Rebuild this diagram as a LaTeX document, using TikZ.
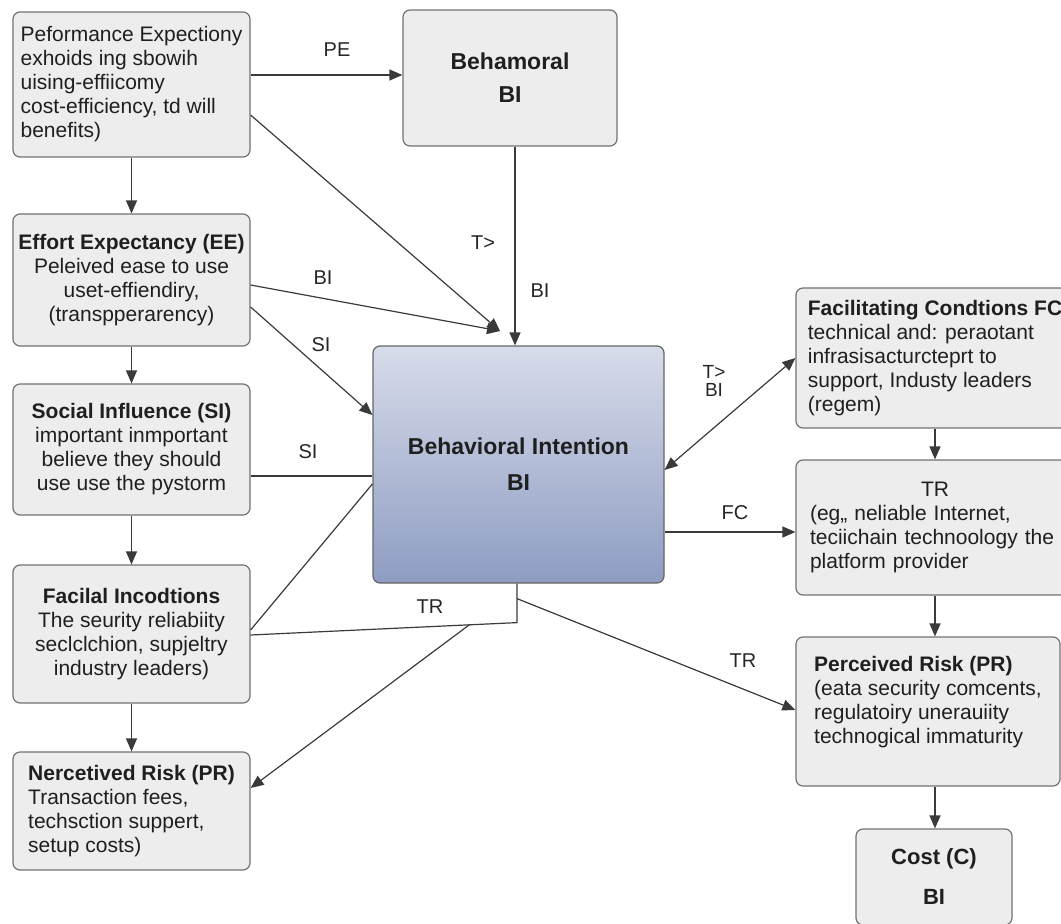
\documentclass[tikz,border=0pt]{standalone}
\usepackage{fontspec}
\setmainfont{Liberation Sans}
\usetikzlibrary{arrows.meta}
\definecolor{boxfill}{HTML}{EDEDED}
\definecolor{boxline}{HTML}{727272}
\definecolor{wire}{HTML}{3A3A3A}
\definecolor{bitop}{HTML}{D7DCEA}
\definecolor{bibot}{HTML}{8E9CC2}
\newcommand{\boxhead}[1]{\textbf{#1}}
\begin{document}
\begin{tikzpicture}[x=1pt,y=-1pt,
  box/.style={draw=boxline, line width=1.2pt, fill=boxfill, rounded corners=7pt,
    inner sep=0pt, text=black!88, font=\fontsize{21}{24}\selectfont},
  lbl/.style={inner sep=1pt, text=black!85, font=\fontsize{20}{22}\selectfont},
  ln/.style={draw=wire, line width=1.2pt},
  arr/.style={ln, -{Triangle[length=13pt,width=11pt]}},
  arrs/.style={ln, {Triangle[length=13pt,width=11pt]}-{Triangle[length=13pt,width=11pt]}}]
\useasboundingbox (0,0) rectangle (1061,924);
% left column
\node[box, minimum width=237pt, minimum height=145pt, align=left] (pe) at (131.5,84.5)
  {Peformance Expectiony\\exhoids ing sbowih\\uising-effiicomy\\cost-efficiency, td will\\benefits)};
\node[box, minimum width=237pt, minimum height=132pt, align=center] (ee) at (131.5,280)
  {\boxhead{Effort Expectancy (EE)}\\Peleived ease to use\\uset-effiendiry,\\(transpperarency)};
\node[box, minimum width=237pt, minimum height=131pt, align=center] (si) at (131.5,449.5)
  {\boxhead{Social Influence (SI)}\\important inmportant\\believe they should\\use use the pystorm};
\node[box, minimum width=237pt, minimum height=138pt, align=center] (fi) at (131.5,634)
  {\boxhead{Facilal Incodtions}\\The seurity reliabiity\\seclclchion, supjeltry\\industry leaders)};
\node[box, minimum width=237pt, minimum height=118pt, align=left] (nr) at (131.5,811)
  {\boxhead{Nercetived Risk (PR)}\\Transaction fees,\\techsction suppert,\\setup costs)};
% top and centre
\node[box, minimum width=214pt, minimum height=136pt, align=center,
  font=\fontsize{23}{33}\selectfont\bfseries] (beh) at (510,78) {Behamoral\\BI};
\node[box, draw=black!60, top color=bitop, bottom color=bibot, minimum width=291pt,
  minimum height=237pt, align=center, font=\fontsize{23}{36}\selectfont\bfseries]
  (bi) at (518.5,464.5) {Behavioral Intention\\BI};
% right column
\node[box, minimum width=278pt, minimum height=140pt, align=left] (fc) at (935,358)
  {\boxhead{Facilitating Condtions FC}\\technical and: peraotant\\infrasisacturcteprt to\\support, Industy leaders\\(regem)};
\node[box, minimum width=278pt, minimum height=135pt, text width=250pt] (tr) at (935,527.5)
  {\centering TR\par\raggedright (eg,, neliable Internet,\\teciichain technoology the\\platform provider};
\node[box, minimum width=264pt, minimum height=149pt, align=left] (pr) at (928,711.5)
  {\boxhead{Perceived Risk (PR)}\\(eata security comcents,\\regulatoiry unerauiity\\technogical immaturity\\ \mbox{}};
\node[box, minimum width=156pt, minimum height=96pt, align=center,
  font=\fontsize{22}{40}\selectfont\bfseries] (cost) at (934,877) {Cost (C)\\BI};
% connectors
\coordinate (hub) at (500,331);
\draw[arr] ([yshift=9.5pt]pe.east) -- ([yshift=9.5pt]pe.east -| beh.west);
\draw[arr] (pe) -- (ee);
\draw[arr] ([yshift=-30.5pt]pe.east) -- (hub);
\draw[arr] ([xshift=5pt]beh.south) -- ([xshift=5pt]beh.south |- bi.north);
\draw[arr] ([yshift=-5pt]ee.east) -- (hub);
\draw[arr] ([yshift=-27pt]ee.east) -- ([yshift=49.5pt]bi.west);
\draw[arr] (ee) -- (si);
\draw[ln] ([yshift=-26.5pt]si.east) -- ([yshift=-26.5pt]si.east -| bi.west);
\draw[arr] (si) -- (fi);
\draw[ln] ([yshift=4pt]fi.east) -- ([yshift=-19.5pt]bi.west);
\draw[ln] ([xshift=-1.5pt]bi.south) -- ++(0,39) coordinate (trk) -- ([yshift=-1pt]fi.east);
\coordinate (trs) at (470,624.3);
\draw[arr] (trs) -- ([yshift=23pt]nr.east);
\draw[arr] (fi) -- (nr);
\draw[arr] ([xshift=-1.5pt,yshift=-15pt]bi.south) -- ([yshift=1.5pt]pr.west);
\draw[arrs] ([yshift=-5.5pt]bi.east) -- (fc.west);
\draw[arr] ([yshift=-67.5pt]bi.east) -- ([yshift=-4.5pt]tr.west);
\draw[arr] (fc) -- (tr);
\draw[arr] (tr.south) -- (tr.south |- pr.north);
\draw[arr] (tr.south |- pr.south) -- (tr.south |- cost.north);
% labels
\node[lbl] (lpe) at (337,50) {PE};
\node[lbl] (lt) at (483,243) {T>};
\node[lbl] (lbia) at (540,291) {BI};
\node[lbl] (lbib) at (323,278) {BI};
\node[lbl] (lsia) at (321,345) {SI};
\node[lbl] (lsib) at (308,452) {SI};
\node[lbl] (ltra) at (430,607) {TR};
\node[lbl, inner sep=0pt, align=center, font=\fontsize{19}{18}\selectfont] (ltb) at (714,381) {T>\\BI};
\node[lbl] (lfc) at (735,513) {FC};
\node[lbl] (ltrb) at (743,661) {TR};
\end{tikzpicture}
\end{document}
